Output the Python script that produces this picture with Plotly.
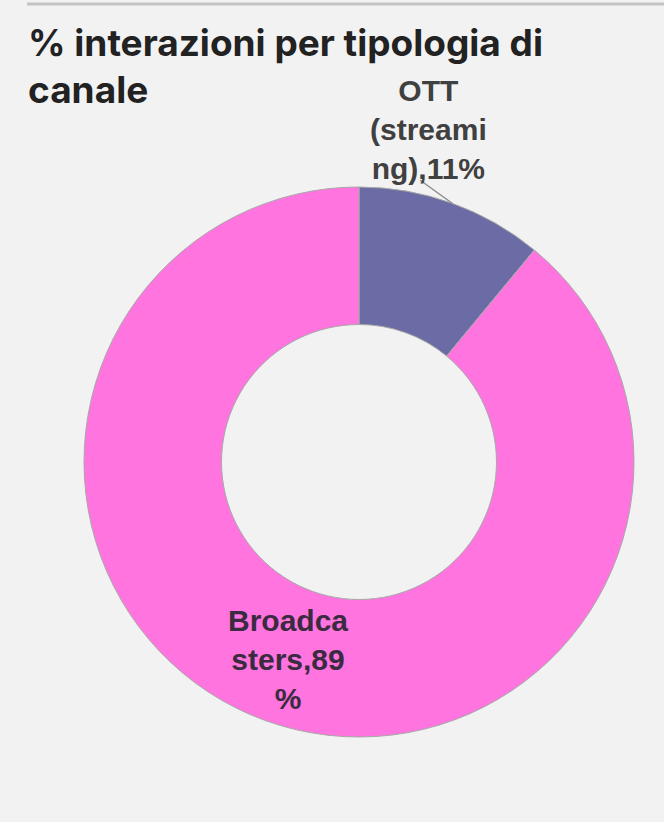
import math
import plotly.graph_objects as go

# Share of interactions by channel type
categories = ["OTT (streaming)", "Broadcasters"]
shares = [11, 89]
# wrapped label lines as printed next to each slice
label_lines = [["OTT", "(streami", "ng),{v}%"], ["Broadca", "sters,{v}", "%"]]

colors = ["#6b6ca6", "#ff74de"]
label_colors = ["#404040", "#3a2b40"]

W, H = 664, 822
CX, CY, R = 359, 462, 275  # donut centre and outer radius in px


def px(x, y):
    return x / W, 1 - y / H


fig = go.Figure()
fig.add_trace(go.Pie(
    labels=categories,
    values=shares,
    hole=0.5,
    sort=False,
    direction="clockwise",
    rotation=0,
    textinfo="none",
    hoverinfo="label+percent",
    marker=dict(colors=colors, line=dict(color="#a8a8a8", width=1)),
    domain=dict(x=[(CX - R) / W, (CX + R) / W], y=[1 - (CY + R) / H, 1 - (CY - R) / H]),
    showlegend=False,
))

# slice mid-angles (clockwise from 12 o'clock)
total = sum(shares)
mids = []
acc = 0
for v in shares:
    mids.append((acc + v / 2) / total * 2 * math.pi)
    acc += v

annotations = []
shapes = []
label_font = "Liberation Sans, Arial"

# OTT label sits outside the ring with a leader line to the slice edge
a0 = mids[0]
ex, ey = CX + R * math.sin(a0), CY - R * math.cos(a0)
lx, ly = ex - 32, ey - 23
shapes.append(dict(type="line", xref="paper", yref="paper",
                   x0=px(ex, ey)[0], y0=px(ex, ey)[1], x1=px(lx, ly)[0], y1=px(lx, ly)[1],
                   line=dict(color="#8c8c8c", width=1.5)))
tx, ty = ex - 24, ey - 74
annotations.append(dict(
    x=px(tx, ty)[0], y=px(tx, ty)[1], xref="paper", yref="paper",
    text="<br>".join("<b>" + s.format(v=shares[0]) + "</b>" for s in label_lines[0]),
    showarrow=False, align="center", xanchor="center", yanchor="middle",
    font=dict(family=label_font, size=30, color=label_colors[0]),
))

# Broadcasters label inside the ring along its mid-angle
a1 = mids[1]
rr = 0.765 * R
bx, by = CX + rr * math.sin(a1), CY - rr * math.cos(a1)
annotations.append(dict(
    x=px(bx, by)[0], y=px(bx, by)[1], xref="paper", yref="paper",
    text="<br>".join("<b>" + s.format(v=shares[1]) + "</b>" for s in label_lines[1]),
    showarrow=False, align="center", xanchor="center", yanchor="middle",
    font=dict(family=label_font, size=30, color=label_colors[1]),
))

# title, two lines
title_lines = ["% interazioni per tipologia di", "canale"]
for i, t in enumerate(title_lines):
    annotations.append(dict(
        x=px(26, 0)[0], y=px(0, 67 + 47 * i)[1], xref="paper", yref="paper",
        text="<b>" + t + "</b>", showarrow=False, xanchor="left", yanchor="bottom",
        font=dict(family="Inter", size=37, color="#222222"),
    ))

# thin rule along the top
shapes.append(dict(type="line", xref="paper", yref="paper",
                   x0=px(27, 0)[0], x1=1, y0=px(0, 4)[1], y1=px(0, 4)[1],
                   line=dict(color="#c4c4c4", width=3)))

fig.update_layout(
    width=W, height=H,
    margin=dict(l=0, r=0, t=0, b=0),
    paper_bgcolor="#f2f2f2",
    plot_bgcolor="#f2f2f2",
    annotations=annotations,
    shapes=shapes,
)

fig.write_html("out.html")
